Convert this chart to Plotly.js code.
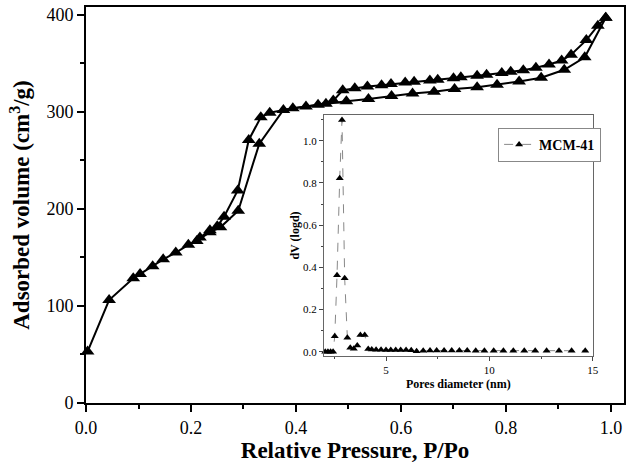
<!DOCTYPE html>
<html>
<head>
<meta charset="utf-8">
<script src="https://cdn.plot.ly/plotly-3.0.1.min.js"></script>
<style>body{margin:0;background:#fff}</style>
</head>
<body>
<div id="chart" style="width:630px;height:467px"></div>
<script>
// isotherm, adsorption branch (lower)
var adsP = [0.003, 0.044, 0.090, 0.103, 0.127, 0.147, 0.171, 0.195, 0.211, 0.236, 0.256, 0.290, 0.330, 0.376,
    0.419, 0.457, 0.496, 0.538, 0.582, 0.622, 0.663, 0.702, 0.745, 0.783, 0.825, 0.867, 0.911, 0.950, 0.990];
var adsV = [53, 106, 128.5, 133, 141, 148, 155, 163, 167, 176, 181, 198, 267, 302,
    305.5, 308.2, 311, 313.1, 316.2, 318.8, 320.6, 323.4, 325.3, 327.8, 331.2, 335.1, 343.3, 356.2, 397];
// desorption branch (upper)
var desP = [0.990, 0.975, 0.953, 0.924, 0.906, 0.882, 0.857, 0.833, 0.809, 0.792, 0.763, 0.745, 0.714, 0.700,
    0.670, 0.655, 0.625, 0.608, 0.581, 0.563, 0.536, 0.512, 0.489, 0.471, 0.442, 0.394, 0.350, 0.333,
    0.310, 0.289, 0.263, 0.250, 0.236, 0.217];
var desV = [397, 388.7, 373.9, 358.8, 352.9, 348.8, 345.4, 342.8, 341.2, 339.9, 338.1, 337.1, 335.6, 334.7,
    333, 332.3, 330.9, 330.2, 328.6, 327.5, 326.1, 324.4, 322.2, 311.6, 307.2, 303.8, 299, 294.5,
    271, 219, 192, 182, 178, 170.5];

// pore size distribution (inset)
var poreD = [2.06, 2.19, 2.32, 2.44, 2.52, 2.63, 2.76, 2.87, 3.00, 3.13, 3.27, 3.44, 3.61, 3.76, 3.97,
    4.14, 4.31, 4.52, 4.76, 5.00, 5.23, 5.47, 5.71, 5.97, 6.22, 6.48, 6.80, 7.13, 7.45, 7.81, 8.18,
    8.55, 8.93, 9.34, 9.76, 10.21, 10.68, 11.16, 11.69, 12.22, 12.77, 13.37, 13.98, 14.64];
var poreV = [0, 0, 0, 0, 0.074, 0.363, 0.822, 1.098, 0.348, 0.066, 0.019, 0.014, 0.030, 0.079, 0.079,
    0.013, 0.011, 0.010, 0.010, 0.009, 0.009, 0.008, 0.008, 0.008, 0.007, 0.003, 0.005, 0.006, 0.006, 0.006, 0.006,
    0.006, 0.006, 0.005, 0.005, 0.005, 0.005, 0.005, 0.005, 0.005, 0.005, 0.005, 0.005, 0.005];

var serif = 'Liberation Serif, Times New Roman, serif';

var trAds = {
  x: adsP, y: adsV, type: 'scatter', mode: 'lines+markers', showlegend: false, cliponaxis: false,
  line: {color: '#000', width: 2},
  marker: {symbol: 'triangle-up', size: 12, color: '#000'}
};
var trDes = {
  x: desP, y: desV, type: 'scatter', mode: 'lines+markers', showlegend: false, cliponaxis: false,
  line: {color: '#000', width: 2},
  marker: {symbol: 'triangle-up', size: 12, color: '#000'}
};
var trPore = {
  x: poreD, y: poreV, type: 'scatter', mode: 'lines+markers', name: '<b>MCM-41</b>',
  xaxis: 'x2', yaxis: 'y2', cliponaxis: false,
  line: {color: '#888', width: 1, dash: 'dash'},
  marker: {symbol: 'triangle-up', size: 7, color: '#000'}
};

var layout = {
  width: 630, height: 467,
  margin: {l: 86, r: 6, t: 7, b: 64},
  paper_bgcolor: '#fff', plot_bgcolor: '#fff',
  font: {family: serif, color: '#000'},
  xaxis: {
    range: [0, 1.0248], dtick: 0.2, tickformat: '.1f',
    showgrid: false, zeroline: false,
    showline: true, linecolor: '#000', linewidth: 2, mirror: true,
    ticks: 'outside', ticklen: 7, tickwidth: 2, tickcolor: '#000',
    minor: {dtick: 0.1, ticks: 'outside', ticklen: 4, tickwidth: 2, tickcolor: '#000'},
    tickfont: {size: 18, family: serif},
    title: {text: '<b>Relative Pressure, P/Po</b>', font: {size: 23, family: serif}, standoff: 4}
  },
  yaxis: {
    range: [0, 408], dtick: 100,
    showgrid: false, zeroline: false,
    showline: true, linecolor: '#000', linewidth: 2, mirror: true,
    ticks: 'outside', ticklen: 7, tickwidth: 2, tickcolor: '#000',
    minor: {dtick: 50, ticks: 'outside', ticklen: 4, tickwidth: 2, tickcolor: '#000'},
    tickfont: {size: 18, family: serif},
    title: {text: '<b>Adsorbed volume (cm<sup>3</sup>/g)</b>', font: {size: 23, family: serif}, standoff: 10}
  },
  xaxis2: {
    domain: [0.4424, 0.9418], anchor: 'y2', range: [2, 15], dtick: 5,
    showgrid: false, zeroline: false,
    showline: true, linecolor: '#666', linewidth: 1, mirror: true,
    ticks: 'outside', ticklen: 4, tickwidth: 1, tickcolor: '#444',
    minor: {dtick: 2.5, ticks: 'outside', ticklen: 2, tickwidth: 1, tickcolor: '#444'},
    tickfont: {size: 11, family: serif},
    title: {text: '<b>Pores diameter (nm)</b>', font: {size: 12, family: serif}, standoff: 4}
  },
  yaxis2: {
    domain: [0.1187, 0.7273], anchor: 'x2', range: [-0.02, 1.122], dtick: 0.2, tickformat: '.1f',
    showgrid: false, zeroline: false,
    showline: true, linecolor: '#666', linewidth: 1, mirror: true,
    ticks: 'outside', ticklen: 4, tickwidth: 1, tickcolor: '#444',
    minor: {dtick: 0.1, ticks: 'outside', ticklen: 2, tickwidth: 1, tickcolor: '#444'},
    tickfont: {size: 11, family: serif},
    title: {text: '<b>dV (logd)</b>', font: {size: 12, family: serif}, standoff: 0}
  },
  legend: {
    x: 0.766, y: 0.695, xanchor: 'left', yanchor: 'top',
    bgcolor: '#fff', bordercolor: '#888', borderwidth: 1,
    font: {size: 14, family: serif},
    itemwidth: 30, tracegroupgap: 0
  },
  shapes: [{
    type: 'rect', xref: 'x2 domain', yref: 'y2 domain', x0: 0, x1: 1, y0: 0, y1: 1,
    fillcolor: '#fff', line: {width: 0}, layer: 'below'
  }]
};

Plotly.newPlot('chart', [trAds, trDes, trPore], layout, {displayModeBar: false, staticPlot: true});
</script>
</body>
</html>
